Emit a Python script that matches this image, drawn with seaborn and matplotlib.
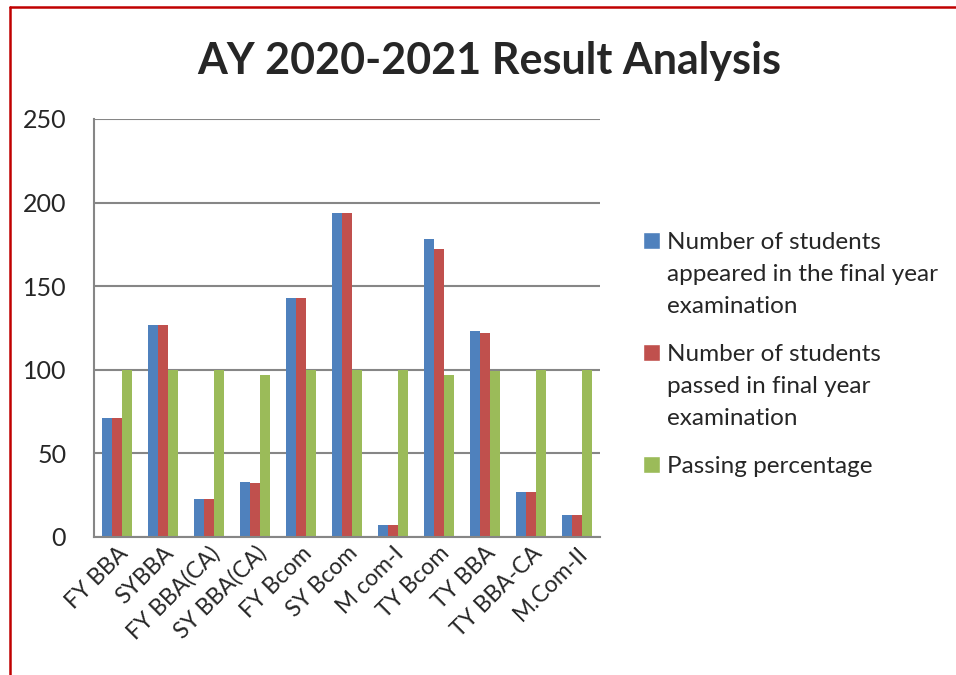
import matplotlib
matplotlib.use("Agg")
import matplotlib.pyplot as plt
from matplotlib.lines import Line2D
from matplotlib.patches import Patch
import seaborn as sns
import pandas as pd

categories = ["FY BBA", "SYBBA", "FY BBA(CA)", "SY BBA(CA)", "FY Bcom", "SY Bcom",
              "M com-I", "TY Bcom", "TY BBA", "TY BBA-CA", "M.Com-II"]
appeared = [71, 127, 23, 33, 143, 194, 7, 178, 123, 27, 13]
passed = [71, 127, 23, 32, 143, 194, 7, 172, 122, 27, 13]
percentage = [100, 100, 100, 97, 100, 100, 100, 96.6, 99, 100, 100]

series_names = ["Number of students\nappeared in the final year\nexamination",
                "Number of students\npassed in final year\nexamination",
                "Passing percentage"]
colors = ["#4F81BD", "#C0504D", "#9BBB59"]

df = pd.DataFrame({
    "Course": categories * 3,
    "Value": appeared + passed + percentage,
    "Series": [series_names[0]] * len(categories) + [series_names[1]] * len(categories)
              + [series_names[2]] * len(categories),
})

sns.set_style("white")
plt.rcParams["font.family"] = ["Lato", "DejaVu Sans"]

fig = plt.figure(figsize=(9.56, 6.75), dpi=100)
ax = fig.add_axes([94 / 956, 1 - 537 / 675, 506 / 956, 418 / 675])

sns.barplot(data=df, x="Course", y="Value", hue="Series", palette=colors,
            width=0.66, gap=0, saturation=1, ax=ax, legend=False, edgecolor="none")

ax.set_ylim(0, 250)
ax.set_yticks([0, 50, 100, 150, 200, 250])
ax.yaxis.grid(True, color="#868686", linewidth=1.5)
ax.set_axisbelow(True)
for side in ["top", "right"]:
    ax.spines[side].set_visible(False)
for side in ["left", "bottom"]:
    ax.spines[side].set_color("#868686")
    ax.spines[side].set_linewidth(1.5)
ax.set_xlabel("")
ax.set_ylabel("")
ax.tick_params(axis="y", labelsize=18, length=0, pad=20)
ax.tick_params(axis="x", labelsize=16.5, length=0, pad=4)
for lbl in ax.get_xticklabels():
    lbl.set_rotation(45)
    lbl.set_ha("right")
    lbl.set_rotation_mode("anchor")

fig.text(0.512, 0.91, "AY 2020-2021 Result Analysis", ha="center", va="center",
         fontsize=31, fontweight="bold")

handles = [Patch(facecolor=c) for c in colors]
leg = fig.legend(handles, series_names, loc="upper left", bbox_to_anchor=(0.66, 0.674),
                 frameon=False, fontsize=17.5, handlelength=0.7, handleheight=0.7,
                 handletextpad=0.3, labelspacing=1.1, borderpad=0)
for t in leg.get_texts():
    t.set_linespacing(1.65)
# marker next to the first line of each entry, like Excel
for col in leg._legend_handle_box.get_children():
    for row in col.get_children():
        row.align = "top"

# red border of the slide
fig.add_artist(Line2D([10 / 956, 1], [1 - 7 / 675, 1 - 7 / 675], color="#C00000", linewidth=1.8))
fig.add_artist(Line2D([10 / 956, 10 / 956], [0, 1 - 7 / 675], color="#C00000", linewidth=1.8))

fig.savefig("out.png", dpi=100, facecolor="white")
